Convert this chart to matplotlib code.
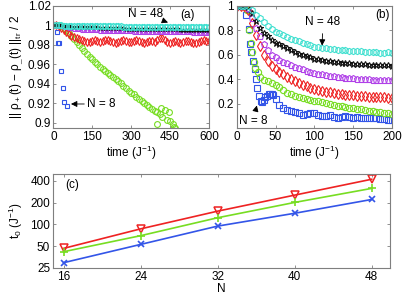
import numpy as np
import matplotlib.pyplot as plt
from matplotlib.ticker import FormatStrFormatter, FixedLocator, NullLocator

plt.rcParams['font.family'] = ['Liberation Sans', 'DejaVu Sans']
plt.rcParams['mathtext.fontset'] = 'custom'
plt.rcParams['mathtext.rm'] = 'Liberation Sans'
plt.rcParams['mathtext.it'] = 'Liberation Sans'
plt.rcParams['font.size'] = 8.5

# ---------------- panel (a): long times ----------------
ta = np.arange(0, 601, 10)
a_n48 = [1.0, 1.0, 1.0, 1.0, 0.9998, 0.9997, 0.9996, 0.9996, 0.9995, 0.9995, 0.9994,
         0.9994, 0.9993, 0.9993, 0.9993, 0.9992, 0.9992, 0.9992, 0.9991, 0.9991, 0.9991,
         0.9991, 0.9990, 0.9990, 0.9990, 0.9990, 0.9990, 0.9989, 0.9989, 0.9989, 0.9989,
         0.9989, 0.9989, 0.9988, 0.9988, 0.9988, 0.9988, 0.9988, 0.9988, 0.9988, 0.9988,
         0.9987, 0.9987, 0.9987, 0.9987, 0.9987, 0.9987, 0.9987, 0.9987, 0.9986, 0.9986,
         0.9986, 0.9986, 0.9986, 0.9986, 0.9986, 0.9986, 0.9986, 0.9985, 0.9985, 0.9985]
a_n40 = [1.0, 1.0, 1.0, 0.9995, 0.9993, 0.9991, 0.9990, 0.9989, 0.9988, 0.9987, 0.9986,
         0.9985, 0.9984, 0.9983, 0.9982, 0.9981, 0.9980, 0.9979, 0.9978, 0.9977, 0.9976,
         0.9975, 0.9974, 0.9973, 0.9972, 0.9971, 0.9970, 0.9969, 0.9968, 0.9968, 0.9967,
         0.9966, 0.9966, 0.9965, 0.9965, 0.9964, 0.9964, 0.9963, 0.9963, 0.9962, 0.9962,
         0.9961, 0.9961, 0.9960, 0.9960, 0.9960, 0.9959, 0.9959, 0.9959, 0.9958, 0.9958,
         0.9958, 0.9957, 0.9957, 0.9957, 0.9956, 0.9956, 0.9956, 0.9955, 0.9955, 0.9955]
a_n32 = [1.0, 1.0, 0.9995, 0.9990, 0.9985, 0.9980, 0.9975, 0.9970, 0.9966, 0.9963, 0.9960,
         0.9958, 0.9956, 0.9954, 0.9952, 0.9950, 0.9949, 0.9948, 0.9947, 0.9946, 0.9945,
         0.9944, 0.9943, 0.9942, 0.9941, 0.9940, 0.9940, 0.9939, 0.9939, 0.9938, 0.9938,
         0.9937, 0.9937, 0.9936, 0.9936, 0.9935, 0.9935, 0.9934, 0.9934, 0.9933, 0.9933,
         0.9932, 0.9932, 0.9931, 0.9931, 0.9930, 0.9930, 0.9930, 0.9929, 0.9929, 0.9929,
         0.9928, 0.9928, 0.9928, 0.9927, 0.9927, 0.9927, 0.9926, 0.9926, 0.9926, 0.9925]
a_n24 = [1.0, 1.0, 0.999, 0.997, 0.995, 0.993, 0.991, 0.989, 0.988, 0.987, 0.986,
         0.985, 0.984, 0.983, 0.983, 0.984, 0.985, 0.984, 0.983, 0.984, 0.985,
         0.985, 0.984, 0.983, 0.982, 0.983, 0.984, 0.985, 0.984, 0.983, 0.983,
         0.984, 0.985, 0.984, 0.983, 0.982, 0.983, 0.984, 0.984, 0.983, 0.985,
         0.987, 0.987, 0.985, 0.983, 0.982, 0.983, 0.984, 0.983, 0.982, 0.983,
         0.984, 0.984, 0.983, 0.982, 0.982, 0.983, 0.984, 0.985, 0.984, 0.984]
ta_n16 = [20, 30, 40, 50, 60, 70, 80, 90, 100, 110, 120, 130, 140, 150, 160, 170, 180,
          190, 200, 210, 220, 230, 240, 250, 260, 270, 280, 290, 300, 310, 320, 330,
          340, 350, 360, 370, 380, 390, 398, 400, 410, 415, 420, 430, 440, 445, 450,
          460, 466, 470]
a_n16 = [1.0, 0.999, 0.997, 0.995, 0.992, 0.989, 0.986, 0.983, 0.980, 0.977, 0.974,
         0.971, 0.968, 0.965, 0.962, 0.960, 0.957, 0.955, 0.953, 0.951, 0.949, 0.947,
         0.945, 0.943, 0.941, 0.938, 0.936, 0.933, 0.931, 0.929, 0.926, 0.924, 0.922,
         0.920, 0.918, 0.916, 0.914, 0.912, 0.8985, 0.911, 0.909, 0.9147, 0.906, 0.913,
         0.903, 0.911, 0.902, 0.899, 0.8957, 0.8945]
ta_n8 = [3, 8, 13, 17, 22, 30, 38, 42, 51]
a_n8 = [1.0, 1.0, 0.993, 0.9815, 0.9815, 0.9535, 0.936, 0.9215, 0.917]

# ---------------- panel (b): short times ----------------
tb = np.arange(0, 201, 5)
b_n48 = [1.0, 1.0, 1.0, 1.0, 0.97, 0.93, 0.90, 0.865, 0.835, 0.81, 0.79, 0.775, 0.76,
         0.745, 0.73, 0.72, 0.71, 0.70, 0.69, 0.68, 0.668, 0.662, 0.658, 0.654, 0.65,
         0.646, 0.643, 0.64, 0.637, 0.634, 0.632, 0.63, 0.628, 0.626, 0.624, 0.622,
         0.62, 0.618, 0.618, 0.62, 0.617]
b_n40 = [1.0, 1.0, 1.0, 0.99, 0.94, 0.88, 0.82, 0.78, 0.75, 0.72, 0.70, 0.685, 0.67,
         0.655, 0.64, 0.625, 0.61, 0.60, 0.59, 0.578, 0.568, 0.562, 0.556, 0.55, 0.546,
         0.542, 0.538, 0.535, 0.532, 0.53, 0.528, 0.526, 0.524, 0.522, 0.52, 0.518,
         0.516, 0.515, 0.514, 0.513, 0.512]
b_n32 = [1.0, 1.0, 1.0, 0.98, 0.90, 0.82, 0.75, 0.69, 0.64, 0.60, 0.58, 0.56, 0.545,
         0.53, 0.515, 0.50, 0.49, 0.48, 0.47, 0.46, 0.452, 0.445, 0.44, 0.435, 0.43,
         0.425, 0.42, 0.416, 0.413, 0.41, 0.407, 0.405, 0.403, 0.401, 0.399, 0.397,
         0.395, 0.394, 0.393, 0.392, 0.39]
b_n24 = [1.0, 1.0, 1.0, 0.97, 0.86, 0.76, 0.67, 0.60, 0.55, 0.51, 0.485, 0.46, 0.44,
         0.42, 0.40, 0.385, 0.37, 0.355, 0.342, 0.33, 0.32, 0.312, 0.305, 0.298, 0.292,
         0.286, 0.281, 0.277, 0.273, 0.27, 0.267, 0.264, 0.262, 0.26, 0.258, 0.256,
         0.254, 0.252, 0.25, 0.248, 0.246]
tb_n16 = [0, 5, 10, 13, 16, 18, 20, 22, 24, 27, 30, 35, 40, 45, 50, 55, 60, 65, 70, 75,
          80, 85, 90, 95, 100, 105, 110, 115, 120, 125, 130, 135, 140, 145, 150, 155,
          160, 165, 170, 175, 180, 185, 190, 195, 200]
b_n16 = [1.0, 1.0, 1.0, 0.97, 0.80, 0.70, 0.62, 0.54, 0.49, 0.455, 0.42, 0.395, 0.385,
         0.37, 0.355, 0.335, 0.31, 0.29, 0.275, 0.262, 0.255, 0.247, 0.24, 0.232, 0.225,
         0.218, 0.21, 0.202, 0.195, 0.19, 0.183, 0.178, 0.172, 0.168, 0.163, 0.158,
         0.153, 0.148, 0.143, 0.138, 0.133, 0.128, 0.124, 0.12, 0.115]
tb_n8 = [0, 3, 6, 9, 12, 15.5, 17, 19, 21.5, 23, 25, 26.5, 29, 31, 33, 35, 37, 39, 41,
         43, 45, 47, 50, 55, 60, 65, 70, 75, 80, 85, 90, 95, 100, 105, 110, 115, 120,
         125, 130, 135, 140, 145, 150, 155, 160, 165, 170, 175, 180, 185, 190, 195, 200]
b_n8 = [1.0, 1.0, 1.0, 1.0, 0.93, 0.81, 0.69, 0.62, 0.55, 0.48, 0.40, 0.33, 0.26, 0.22,
        0.215, 0.23, 0.25, 0.265, 0.275, 0.28, 0.278, 0.27, 0.24, 0.19, 0.165, 0.15,
        0.14, 0.13, 0.12, 0.11, 0.115, 0.125, 0.12, 0.105, 0.10, 0.10, 0.105, 0.09,
        0.085, 0.09, 0.095, 0.09, 0.085, 0.09, 0.085, 0.08, 0.08, 0.085, 0.08, 0.075,
        0.07, 0.065, 0.065]

# ---------------- panel (c): t0 vs N ----------------
Nc = [16, 24, 32, 40, 48]
t0_red = [46.7, 87, 153, 255, 423]
t0_green = [42, 70, 124, 202, 316]
t0_blue = [29.6, 53, 95, 143, 222]

c_blue = '#3355e8'
c_green = '#77dd22'
c_red = '#ee2222'
c_purple = '#b040e8'
c_black = '#111111'
c_cyan = '#40e0d0'
spine = '#7f7f7f'

fig = plt.figure(figsize=(4.15, 3.06), dpi=100)
axa = fig.add_axes([0.1285, 0.5817, 0.3751, 0.3987])
axb = fig.add_axes([0.5703, 0.5817, 0.3743, 0.3987])
axc = fig.add_axes([0.1277, 0.1242, 0.8120, 0.3072])

def style(ax):
    for s in ax.spines.values():
        s.set_color(spine)
        s.set_linewidth(0.8)
    ax.tick_params(direction='in', length=2.5, width=0.6, color=spine,
                   top=True, right=True, labelsize=8.5, pad=2)

mk = dict(ls='none', mfc='none', mew=0.8)
# (a)
axa.plot(ta_n8, a_n8, marker='s', ms=3.5, color=c_blue, **mk)
axa.plot(ta_n16, a_n16, marker='o', ms=4.2, color=c_green, **mk)
axa.plot(ta, a_n24, marker='d', ms=4.2, color=c_red, **mk)
axa.plot(ta, a_n32, marker='p', ms=3.5, color=c_purple, **mk)
axa.plot(ta, a_n40, marker='*', ms=3, color=c_black, **mk)
axa.plot(ta, a_n48, marker='h', ms=4.5, color=c_cyan, **mk)
axa.set_xlim(0, 600)
axa.set_ylim(0.8945, 1.02)
axa.set_xticks([0, 150, 300, 450, 600])
axa.set_yticks([0.9, 0.92, 0.94, 0.96, 0.98, 1.0, 1.02])
axa.yaxis.set_major_formatter(FormatStrFormatter('%g'))
axa.set_xlabel('time (J$^{-1}$)', labelpad=1)
axa.set_ylabel('|| \u03c1$_+$(t) \u2212 \u03c1$_{\\_}$(t) ||$_{tr}$ / 2', labelpad=2)
axa.text(0.86, 0.925, '(a)', transform=axa.transAxes, ha='center', va='center')
axa.annotate('N = 48', xy=(442, 1.003), xytext=(288, 1.0118), ha='left', va='center',
             arrowprops=dict(arrowstyle='-|>', color='k', lw=0.6, mutation_scale=9,
                             shrinkA=0, shrinkB=0))
axa.annotate('N = 8', xy=(68, 0.9192), xytext=(130, 0.9192), ha='left', va='center',
             arrowprops=dict(arrowstyle='-|>', color='k', lw=0.6, mutation_scale=9,
                             shrinkA=0, shrinkB=0))
style(axa)

# (b)
axb.plot(tb_n8, b_n8, marker='s', ms=3.8, color=c_blue, **mk)
axb.plot(tb_n16, b_n16, marker='o', ms=4.5, color=c_green, **mk)
axb.plot(tb, b_n24, marker='d', ms=5, color=c_red, **mk)
axb.plot(tb, b_n32, marker='p', ms=4.5, color=c_purple, **mk)
axb.plot(tb, b_n40, marker='*', ms=4.5, color=c_black, **mk)
axb.plot(tb, b_n48, marker='h', ms=4.5, color=c_cyan, **mk)
axb.set_xlim(0, 200)
axb.set_ylim(0, 1)
axb.set_xticks([0, 50, 100, 150, 200])
axb.set_yticks([0.2, 0.4, 0.6, 0.8, 1.0])
axb.yaxis.set_major_formatter(FormatStrFormatter('%g'))
axb.set_xlabel('time (J$^{-1}$)', labelpad=1)
axb.text(0.936, 0.925, '(b)', transform=axb.transAxes, ha='center', va='center')
axb.annotate('N = 48', xy=(110, 0.675), xytext=(111, 0.868), ha='center', va='center',
             arrowprops=dict(arrowstyle='-|>', color='k', lw=0.6, mutation_scale=9,
                             shrinkA=2, shrinkB=0))
axb.annotate('N = 8', xy=(26, 0.185), xytext=(21, 0.055), ha='center', va='center',
             arrowprops=dict(arrowstyle='-|>', color='k', lw=0.6, mutation_scale=9,
                             shrinkA=4, shrinkB=0))
style(axb)

# (c)
axc.plot(Nc, t0_red, color=c_red, lw=1.2, marker='v', ms=5.5, mfc='none', mew=1.1)
axc.plot(Nc, t0_green, color=c_green, lw=1.2, marker='+', ms=5.5, mew=1.2)
axc.plot(Nc, t0_blue, color=c_blue, lw=1.2, marker='x', ms=4, mew=1.2)
axc.set_yscale('log')
axc.set_xlim(14.9, 49.9)
axc.set_ylim(25, 500)
axc.set_xticks(Nc)
axc.yaxis.set_major_locator(FixedLocator([25, 50, 100, 200, 400]))
axc.yaxis.set_minor_locator(NullLocator())
axc.yaxis.set_major_formatter(FormatStrFormatter('%g'))
axc.set_xlabel('N', labelpad=0)
axc.set_ylabel('t$_0$ (J$^{-1}$)', labelpad=4)
axc.text(0.056, 0.883, '(c)', transform=axc.transAxes, ha='center', va='center')
style(axc)

fig.savefig('out.png', dpi=100)
